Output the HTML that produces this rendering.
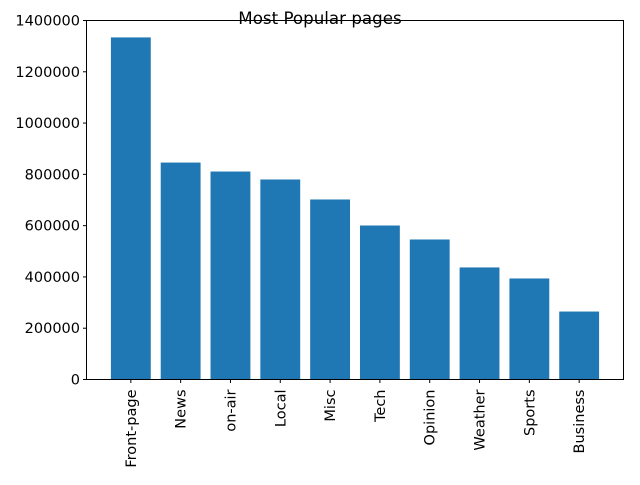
<!DOCTYPE html>
<html><head><meta charset="utf-8"><style>
body{margin:0;background:#fff;}
svg text{font-family:"DejaVu Sans","Liberation Sans",sans-serif;fill:#000;}
</style></head><body>
<svg id="chart" width="640" height="480">
<rect x="0" y="0" width="640" height="480" fill="#fff"/>
<text x="320" y="24" font-size="16.7" text-anchor="middle">Most Popular pages</text>
<g id="bars"></g><g id="yaxis"></g><g id="xaxis"></g>
<rect x="86.5" y="20.5" width="537" height="359" fill="none" stroke="#000" stroke-width="1"/>
</svg>
<script>
const categories=["Front-page","News","on-air","Local","Misc","Tech","Opinion","Weather","Sports","Business"];
const values=[1334000,846000,811000,780000,702000,600500,546000,437000,394000,265000];
const yTicks=[0,200000,400000,600000,800000,1000000,1200000,1400000];
const L=86.5,R=623.5,T=20.5,B=379.5,yMax=1400000;
const xmin=-0.89,xmax=categories.length-1+0.89;
function x(v){return L+(v-xmin)/(xmax-xmin)*(R-L);}
function y(v){return B-v/yMax*(B-T);}
const ns="http://www.w3.org/2000/svg";
const bars=document.getElementById('bars'),ya=document.getElementById('yaxis'),xa=document.getElementById('xaxis');
function mk(tag,attrs,parent){const e=document.createElementNS(ns,tag);for(const k in attrs)e.setAttribute(k,attrs[k]);parent.appendChild(e);return e;}
values.forEach((v,i)=>{
  const r=mk('rect',{x:x(i-0.4),y:y(v),width:x(i+0.4)-x(i-0.4),height:B-y(v),fill:'#1f77b4'},bars);
  
  
  const t=mk('line',{x1:x(i),x2:x(i),y1:B,y2:B+3.5,stroke:'#000'},xa);
  
  
  const lb=mk('text',{x:0,y:0,'font-size':14.5,'text-anchor':'end',transform:`translate(${x(i)+5},${B+10}) rotate(-90)`},xa);
  lb.textContent=categories[i];
  
  
});
yTicks.forEach(v=>{
  const t=mk('line',{x1:L-3.5,x2:L,y1:y(v),y2:y(v),stroke:'#000'},ya);
  
  
  const lb=mk('text',{x:L-6.5,y:y(v)+5,'font-size':14.5,'text-anchor':'end'},ya);
  lb.textContent=String(v);
  
  
});
</script>
</body></html>
